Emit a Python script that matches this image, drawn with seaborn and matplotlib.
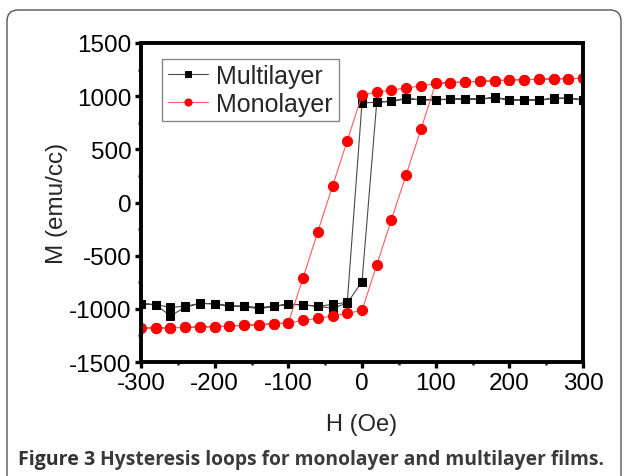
import numpy as np
import pandas as pd
import matplotlib
matplotlib.use("Agg")
import matplotlib.pyplot as plt
import seaborn as sns
from matplotlib.patches import FancyBboxPatch
from matplotlib.transforms import IdentityTransform
from matplotlib.ticker import MultipleLocator

# ---- data ----
mono_H = [300, 280, 260, 240, 220, 200, 180, 160, 140, 120, 100, 80, 60, 40, 20, 0,
          -20, -40, -60, -80, -100, -120, -140, -160, -180, -200, -220, -240, -260, -280, -300,
          -280, -260, -240, -220, -200, -180, -160, -140, -120, -100, -80, -60, -40, -20, 0,
          20, 40, 60, 80, 100, 120, 140, 160, 180, 200, 220, 240, 260, 280, 300]
mono_M = [1168, 1165, 1162, 1159, 1155, 1152, 1146, 1140, 1134, 1127, 1121, 1096, 1077, 1058, 1037, 1011,
          581, 155, -275, -708, -1133, -1140, -1149, -1155, -1162, -1168, -1171, -1174, -1178, -1181, -1181,
          -1181, -1178, -1174, -1171, -1168, -1162, -1155, -1149, -1140, -1133, -1108, -1090, -1068, -1043, -1015,
          -588, -160, 262, 688, 1121, 1127, 1134, 1140, 1146, 1152, 1155, 1159, 1162, 1165, 1168]

multi_H = [300, 280, 260, 240, 220, 200, 180, 160, 140, 120, 100, 80, 60, 40, 20, 0,
           -20, -40, -60, -80, -100, -120, -140, -160, -180, -200, -220, -240, -260, -280, -300,
           -280, -260, -240, -220, -200, -180, -160, -140, -120, -100, -80, -60, -40, -20, 0,
           20, 40, 60, 80, 100, 120, 140, 160, 180, 200, 220, 240, 260, 280, 300]
multi_M = [967, 983, 983, 964, 967, 967, 990, 974, 977, 974, 967, 967, 980, 955, 943, 936,
           -939, -958, -977, -964, -958, -977, -986, -977, -977, -955, -948, -986, -1065, -964, -950,
           -960, -986, -975, -950, -950, -970, -975, -1002, -975, -955, -962, -975, -995, -945, -745,
           943, 950, 975, 965, 965, 970, 972, 970, 985, 962, 962, 960, 978, 978, 965]

x_ticks = [-300, -200, -100, 0, 100, 200, 300]
y_ticks = [-1500, -1000, -500, 0, 500, 1000, 1500]

multi = pd.DataFrame({"H": multi_H, "M": multi_M})
mono = pd.DataFrame({"H": mono_H, "M": mono_M})

sns.set_style("ticks")
plt.rcParams["font.family"] = ["Liberation Sans", "DejaVu Sans"]

fig = plt.figure(figsize=(6.24, 4.77), dpi=100)
ax = fig.add_axes([141 / 624, 1 - 363 / 477, 442 / 624, 319 / 477])

sns.lineplot(data=multi, x="H", y="M", sort=False, estimator=None, ax=ax,
             color="#4a4a4a", lw=0.8, marker="s", markersize=5.8,
             markerfacecolor="black", markeredgecolor="black", label="Multilayer")
sns.lineplot(data=mono, x="H", y="M", sort=False, estimator=None, ax=ax,
             color="#ff5a5a", lw=0.8, marker="o", markersize=7.3,
             markerfacecolor="#ff0000", markeredgecolor="#ff0000", label="Monolayer")

ax.set_xlim(-300, 300)
ax.set_ylim(-1500, 1500)
ax.set_xticks(x_ticks)
ax.set_yticks(y_ticks)
ax.set_xticklabels([str(v) for v in x_ticks])
ax.set_yticklabels([str(v) for v in y_ticks])
ax.xaxis.set_minor_locator(MultipleLocator(50))
ax.yaxis.set_minor_locator(MultipleLocator(250))

for s in ax.spines.values():
    s.set_visible(True)
    s.set_linewidth(2.8)
    s.set_color("black")
ax.tick_params(which="major", direction="out", length=4, width=2.4, labelsize=17.5, pad=3, colors="black")
ax.tick_params(which="minor", direction="out", length=2.5, width=1.8)

ax.set_xlabel("H (Oe)", fontsize=17)
ax.set_ylabel("M (emu/cc)", fontsize=17.5)
ax.xaxis.set_label_coords(0.5, -0.16)
ax.yaxis.set_label_coords(-0.165, 0.5)

leg = ax.legend(loc="upper left", bbox_to_anchor=(0.048, 0.951), borderaxespad=0,
                fontsize=18, frameon=True, fancybox=False, framealpha=1,
                edgecolor="#888888", handlelength=1.6, handletextpad=0.35,
                borderpad=0.22, labelspacing=0.15, markerscale=0.7)
leg.get_frame().set_linewidth(1.0)

# figure border (rounded rectangle, open at bottom)
border = FancyBboxPatch((7, -20), 614, 477 - 11 + 20, boxstyle="round,pad=0,rounding_size=11",
                        transform=IdentityTransform(), fill=False, edgecolor="#555555", lw=1.0)
fig.add_artist(border)

# caption
t1 = fig.text(18 / 624, 1 - 460 / 477, "Figure 3 ", fontsize=14.1, fontweight="bold",
              color="#333333", va="center", family=["Open Sans", "DejaVu Sans"])
fig.canvas.draw()
ax.annotate("Hysteresis loops for monolayer and multilayer films.", xy=(1, 0.5),
            xycoords=t1, va="center", ha="left", fontsize=13.9, fontweight="bold",
            color="#3a3a3a", family=["Open Sans", "DejaVu Sans"], annotation_clip=False)

fig.savefig("out.png", dpi=100)
